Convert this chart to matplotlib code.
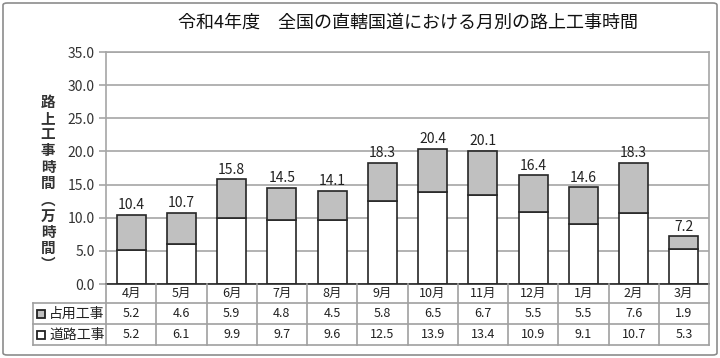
import numpy as np
import matplotlib
matplotlib.use('Agg')
from matplotlib import pyplot as plt
from matplotlib.patches import Rectangle, FancyBboxPatch
from matplotlib.lines import Line2D

plt.rcParams['font.family'] = ['Noto Sans CJK JP', 'DejaVu Sans']

months = ['4月', '5月', '6月', '7月', '8月', '9月', '10月', '11月', '12月', '1月', '2月', '3月']
senyo = [5.2, 4.6, 5.9, 4.8, 4.5, 5.8, 6.5, 6.7, 5.5, 5.5, 7.6, 1.9]   # 占用工事
doro = [5.2, 6.1, 9.9, 9.7, 9.6, 12.5, 13.9, 13.4, 10.9, 9.1, 10.7, 5.3]  # 道路工事
totals = [10.4, 10.7, 15.8, 14.5, 14.1, 18.3, 20.4, 20.1, 16.4, 14.6, 18.3, 7.2]
series_names = ['占用工事', '道路工事']
title = '令和4年度　全国の直轄国道における月別の路上工事時間'

W, H = 720, 358
fig = plt.figure(figsize=(W / 100, H / 100), dpi=100)

# outer frame
fig.add_artist(FancyBboxPatch((3 / W, 3 / H), 714 / W, 352 / H,
                              boxstyle='round,pad=0,rounding_size=0.006',
                              transform=fig.transFigure, fill=False,
                              edgecolor='#8c8c8c', lw=1.2))

x0, x1 = 106, 709
y_top, y_bot = 52, 284
ax = fig.add_axes([x0 / W, (H - y_bot) / H, (x1 - x0) / W, (y_bot - y_top) / H])

x = np.arange(len(months))
ax.bar(x, doro, width=0.58, color='white', edgecolor='#262626', lw=1.2, zorder=3)
ax.bar(x, senyo, width=0.58, bottom=doro, color='#c0c0c0', edgecolor='#262626', lw=1.2, zorder=3)
for xi, t in zip(x, totals):
    ax.text(xi, t + 0.4, f'{t:.1f}', ha='center', va='bottom', fontsize=10, color='#222222')

ax.set_xlim(-0.5, len(months) - 0.5)
ax.set_ylim(0, 35)
ax.set_yticks(np.arange(0, 35.1, 5))
ax.set_yticklabels([f'{v:.1f}' for v in np.arange(0, 35.1, 5)], fontsize=10, color='#333333')
ax.set_xticks([])
ax.yaxis.grid(True, color='#a6a6a6', lw=1.2, zorder=0)
ax.tick_params(axis='y', length=5, color='#a6a6a6', width=1.2, pad=3)
for s in ax.spines.values():
    s.set_color('#a6a6a6')
    s.set_linewidth(1.2)
ax.spines['bottom'].set_visible(False)

fig.text(408 / W, 1 - 23 / H, title, ha='center', va='center', fontsize=13, color='#111111')
fig.text(48 / W, 1 - 183 / H, '路\n上\n工\n事\n時\n間\n︵\n万\n時\n間\n︶', ha='center', va='center',
         fontsize=10.5, color='#333333', linespacing=1.02, fontweight='bold')

# data table below the plot, in pixel coords
tx0 = 33
tab = fig.add_axes([0, 0, 1, 1], zorder=5)
tab.set_xlim(0, W)
tab.set_ylim(H, 0)
tab.axis('off')
gc = '#a0a0a0'
rows_y = [284, 303, 324, 345]
cw = (x1 - x0) / len(months)
tab.add_line(Line2D([x0, x1], [rows_y[0], rows_y[0]], color='#262626', lw=1.2))
for yy in rows_y[1:]:
    tab.add_line(Line2D([tx0, x1], [yy, yy], color=gc, lw=1.2))
for i in range(len(months) + 1):
    xx = x0 + i * cw
    tab.add_line(Line2D([xx, xx], [rows_y[0], rows_y[-1]], color=gc, lw=1.2))
tab.add_line(Line2D([tx0, tx0], [rows_y[1], rows_y[-1]], color=gc, lw=1.2))

for i, m in enumerate(months):
    cx = x0 + (i + 0.5) * cw
    tab.text(cx, (rows_y[0] + rows_y[1]) / 2, m, ha='center', va='center', fontsize=9, color='#222222')
    tab.text(cx, (rows_y[1] + rows_y[2]) / 2, f'{senyo[i]:.1f}', ha='center', va='center', fontsize=9, color='#222222')
    tab.text(cx, (rows_y[2] + rows_y[3]) / 2, f'{doro[i]:.1f}', ha='center', va='center', fontsize=9, color='#222222')

for r, (name, fc) in enumerate(zip(series_names, ['#c0c0c0', 'white'])):
    cy = (rows_y[r + 1] + rows_y[r + 2]) / 2
    tab.add_patch(Rectangle((37, cy - 4), 8, 8, facecolor=fc, edgecolor='#222222', lw=1.3))
    tab.text(49, cy, name, ha='left', va='center', fontsize=10, color='#222222')

fig.savefig('out.png', dpi=100)
